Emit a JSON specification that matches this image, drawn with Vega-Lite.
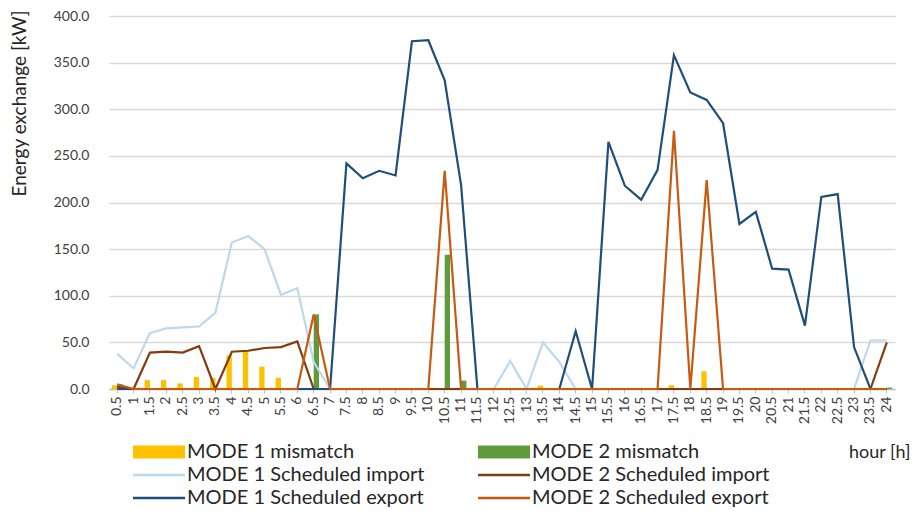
{
  "$schema": "https://vega.github.io/schema/vega-lite/v6.json",
  "width": 786,
  "height": 373,
  "autosize": "none",
  "padding": {"left": 109, "top": 16, "right": 17, "bottom": 122},
  "config": {
    "view": {"stroke": null},
    "font": "Lato",
    "axis": {"labelFont": "Lato", "titleFont": "Lato", "labelColor": "#404040", "titleColor": "#262626", "titleFontWeight": "normal"}
  },
  "data": {
    "values": [
      {"h": 0.5, "MODE 1 mismatch": 4, "MODE 2 mismatch": 5, "MODE 1 Scheduled import": 38, "MODE 2 Scheduled import": 2, "MODE 1 Scheduled export": 0, "MODE 2 Scheduled export": 5},
      {"h": 1, "MODE 1 mismatch": 0, "MODE 2 mismatch": 0, "MODE 1 Scheduled import": 22, "MODE 2 Scheduled import": 0, "MODE 1 Scheduled export": 0, "MODE 2 Scheduled export": 0},
      {"h": 1.5, "MODE 1 mismatch": 9.6, "MODE 2 mismatch": 0, "MODE 1 Scheduled import": 60, "MODE 2 Scheduled import": 39, "MODE 1 Scheduled export": 0, "MODE 2 Scheduled export": 0},
      {"h": 2, "MODE 1 mismatch": 9.6, "MODE 2 mismatch": 0, "MODE 1 Scheduled import": 65, "MODE 2 Scheduled import": 40, "MODE 1 Scheduled export": 0, "MODE 2 Scheduled export": 0},
      {"h": 2.5, "MODE 1 mismatch": 6, "MODE 2 mismatch": 0, "MODE 1 Scheduled import": 66, "MODE 2 Scheduled import": 39, "MODE 1 Scheduled export": 0, "MODE 2 Scheduled export": 0},
      {"h": 3, "MODE 1 mismatch": 13, "MODE 2 mismatch": 0, "MODE 1 Scheduled import": 67, "MODE 2 Scheduled import": 46, "MODE 1 Scheduled export": 0, "MODE 2 Scheduled export": 0},
      {"h": 3.5, "MODE 1 mismatch": 12, "MODE 2 mismatch": 0, "MODE 1 Scheduled import": 82, "MODE 2 Scheduled import": 0, "MODE 1 Scheduled export": 0, "MODE 2 Scheduled export": 0},
      {"h": 4, "MODE 1 mismatch": 36, "MODE 2 mismatch": 0, "MODE 1 Scheduled import": 157, "MODE 2 Scheduled import": 40, "MODE 1 Scheduled export": 0, "MODE 2 Scheduled export": 0},
      {"h": 4.5, "MODE 1 mismatch": 41, "MODE 2 mismatch": 0, "MODE 1 Scheduled import": 164, "MODE 2 Scheduled import": 41, "MODE 1 Scheduled export": 0, "MODE 2 Scheduled export": 0},
      {"h": 5, "MODE 1 mismatch": 24, "MODE 2 mismatch": 0, "MODE 1 Scheduled import": 150, "MODE 2 Scheduled import": 44, "MODE 1 Scheduled export": 0, "MODE 2 Scheduled export": 0},
      {"h": 5.5, "MODE 1 mismatch": 12, "MODE 2 mismatch": 0, "MODE 1 Scheduled import": 101, "MODE 2 Scheduled import": 45, "MODE 1 Scheduled export": 0, "MODE 2 Scheduled export": 0},
      {"h": 6, "MODE 1 mismatch": 0, "MODE 2 mismatch": 0, "MODE 1 Scheduled import": 108, "MODE 2 Scheduled import": 51, "MODE 1 Scheduled export": 0, "MODE 2 Scheduled export": 0},
      {"h": 6.5, "MODE 1 mismatch": 0, "MODE 2 mismatch": 80, "MODE 1 Scheduled import": 29, "MODE 2 Scheduled import": 0, "MODE 1 Scheduled export": 0, "MODE 2 Scheduled export": 80},
      {"h": 7, "MODE 1 mismatch": 0, "MODE 2 mismatch": 0, "MODE 1 Scheduled import": 0, "MODE 2 Scheduled import": 0, "MODE 1 Scheduled export": 0, "MODE 2 Scheduled export": 0},
      {"h": 7.5, "MODE 1 mismatch": 0, "MODE 2 mismatch": 0, "MODE 1 Scheduled import": 0, "MODE 2 Scheduled import": 0, "MODE 1 Scheduled export": 242, "MODE 2 Scheduled export": 0},
      {"h": 8, "MODE 1 mismatch": 0, "MODE 2 mismatch": 0, "MODE 1 Scheduled import": 0, "MODE 2 Scheduled import": 0, "MODE 1 Scheduled export": 226, "MODE 2 Scheduled export": 0},
      {"h": 8.5, "MODE 1 mismatch": 0, "MODE 2 mismatch": 0, "MODE 1 Scheduled import": 0, "MODE 2 Scheduled import": 0, "MODE 1 Scheduled export": 234, "MODE 2 Scheduled export": 0},
      {"h": 9, "MODE 1 mismatch": 0, "MODE 2 mismatch": 0, "MODE 1 Scheduled import": 0, "MODE 2 Scheduled import": 0, "MODE 1 Scheduled export": 229, "MODE 2 Scheduled export": 0},
      {"h": 9.5, "MODE 1 mismatch": 0, "MODE 2 mismatch": 0, "MODE 1 Scheduled import": 0, "MODE 2 Scheduled import": 0, "MODE 1 Scheduled export": 373, "MODE 2 Scheduled export": 0},
      {"h": 10, "MODE 1 mismatch": 0, "MODE 2 mismatch": 0, "MODE 1 Scheduled import": 0, "MODE 2 Scheduled import": 0, "MODE 1 Scheduled export": 374, "MODE 2 Scheduled export": 0},
      {"h": 10.5, "MODE 1 mismatch": 0, "MODE 2 mismatch": 144, "MODE 1 Scheduled import": 0, "MODE 2 Scheduled import": 0, "MODE 1 Scheduled export": 331, "MODE 2 Scheduled export": 234},
      {"h": 11, "MODE 1 mismatch": 0, "MODE 2 mismatch": 9, "MODE 1 Scheduled import": 0, "MODE 2 Scheduled import": 0, "MODE 1 Scheduled export": 219, "MODE 2 Scheduled export": 0},
      {"h": 11.5, "MODE 1 mismatch": 0, "MODE 2 mismatch": 0, "MODE 1 Scheduled import": 0, "MODE 2 Scheduled import": 0, "MODE 1 Scheduled export": 0, "MODE 2 Scheduled export": 0},
      {"h": 12, "MODE 1 mismatch": 0, "MODE 2 mismatch": 0, "MODE 1 Scheduled import": 0, "MODE 2 Scheduled import": 0, "MODE 1 Scheduled export": 0, "MODE 2 Scheduled export": 0},
      {"h": 12.5, "MODE 1 mismatch": 0, "MODE 2 mismatch": 0, "MODE 1 Scheduled import": 30, "MODE 2 Scheduled import": 0, "MODE 1 Scheduled export": 0, "MODE 2 Scheduled export": 0},
      {"h": 13, "MODE 1 mismatch": 0, "MODE 2 mismatch": 0, "MODE 1 Scheduled import": 0, "MODE 2 Scheduled import": 0, "MODE 1 Scheduled export": 0, "MODE 2 Scheduled export": 0},
      {"h": 13.5, "MODE 1 mismatch": 3.6, "MODE 2 mismatch": 0, "MODE 1 Scheduled import": 50, "MODE 2 Scheduled import": 0, "MODE 1 Scheduled export": 0, "MODE 2 Scheduled export": 0},
      {"h": 14, "MODE 1 mismatch": 0, "MODE 2 mismatch": 0, "MODE 1 Scheduled import": 29, "MODE 2 Scheduled import": 0, "MODE 1 Scheduled export": 0, "MODE 2 Scheduled export": 0},
      {"h": 14.5, "MODE 1 mismatch": 0, "MODE 2 mismatch": 0, "MODE 1 Scheduled import": 0, "MODE 2 Scheduled import": 0, "MODE 1 Scheduled export": 62, "MODE 2 Scheduled export": 0},
      {"h": 15, "MODE 1 mismatch": 0, "MODE 2 mismatch": 0, "MODE 1 Scheduled import": 0, "MODE 2 Scheduled import": 0, "MODE 1 Scheduled export": 0, "MODE 2 Scheduled export": 0},
      {"h": 15.5, "MODE 1 mismatch": 0, "MODE 2 mismatch": 0, "MODE 1 Scheduled import": 0, "MODE 2 Scheduled import": 0, "MODE 1 Scheduled export": 265, "MODE 2 Scheduled export": 0},
      {"h": 16, "MODE 1 mismatch": 0, "MODE 2 mismatch": 0, "MODE 1 Scheduled import": 0, "MODE 2 Scheduled import": 0, "MODE 1 Scheduled export": 218, "MODE 2 Scheduled export": 0},
      {"h": 16.5, "MODE 1 mismatch": 0, "MODE 2 mismatch": 0, "MODE 1 Scheduled import": 0, "MODE 2 Scheduled import": 0, "MODE 1 Scheduled export": 203, "MODE 2 Scheduled export": 0},
      {"h": 17, "MODE 1 mismatch": 0, "MODE 2 mismatch": 0, "MODE 1 Scheduled import": 0, "MODE 2 Scheduled import": 0, "MODE 1 Scheduled export": 235, "MODE 2 Scheduled export": 0},
      {"h": 17.5, "MODE 1 mismatch": 4, "MODE 2 mismatch": 0, "MODE 1 Scheduled import": 0, "MODE 2 Scheduled import": 0, "MODE 1 Scheduled export": 358, "MODE 2 Scheduled export": 277},
      {"h": 18, "MODE 1 mismatch": 0, "MODE 2 mismatch": 0, "MODE 1 Scheduled import": 0, "MODE 2 Scheduled import": 0, "MODE 1 Scheduled export": 318, "MODE 2 Scheduled export": 0},
      {"h": 18.5, "MODE 1 mismatch": 19, "MODE 2 mismatch": 0, "MODE 1 Scheduled import": 0, "MODE 2 Scheduled import": 0, "MODE 1 Scheduled export": 310, "MODE 2 Scheduled export": 224},
      {"h": 19, "MODE 1 mismatch": 0, "MODE 2 mismatch": 0, "MODE 1 Scheduled import": 0, "MODE 2 Scheduled import": 0, "MODE 1 Scheduled export": 285, "MODE 2 Scheduled export": 0},
      {"h": 19.5, "MODE 1 mismatch": 0, "MODE 2 mismatch": 0, "MODE 1 Scheduled import": 0, "MODE 2 Scheduled import": 0, "MODE 1 Scheduled export": 177, "MODE 2 Scheduled export": 0},
      {"h": 20, "MODE 1 mismatch": 0, "MODE 2 mismatch": 0, "MODE 1 Scheduled import": 0, "MODE 2 Scheduled import": 0, "MODE 1 Scheduled export": 190, "MODE 2 Scheduled export": 0},
      {"h": 20.5, "MODE 1 mismatch": 0, "MODE 2 mismatch": 0, "MODE 1 Scheduled import": 0, "MODE 2 Scheduled import": 0, "MODE 1 Scheduled export": 129, "MODE 2 Scheduled export": 0},
      {"h": 21, "MODE 1 mismatch": 0, "MODE 2 mismatch": 0, "MODE 1 Scheduled import": 0, "MODE 2 Scheduled import": 0, "MODE 1 Scheduled export": 128, "MODE 2 Scheduled export": 0},
      {"h": 21.5, "MODE 1 mismatch": 0, "MODE 2 mismatch": 0, "MODE 1 Scheduled import": 0, "MODE 2 Scheduled import": 0, "MODE 1 Scheduled export": 68, "MODE 2 Scheduled export": 0},
      {"h": 22, "MODE 1 mismatch": 0, "MODE 2 mismatch": 0, "MODE 1 Scheduled import": 0, "MODE 2 Scheduled import": 0, "MODE 1 Scheduled export": 206, "MODE 2 Scheduled export": 0},
      {"h": 22.5, "MODE 1 mismatch": 0, "MODE 2 mismatch": 0, "MODE 1 Scheduled import": 0, "MODE 2 Scheduled import": 0, "MODE 1 Scheduled export": 209, "MODE 2 Scheduled export": 0},
      {"h": 23, "MODE 1 mismatch": 0, "MODE 2 mismatch": 0, "MODE 1 Scheduled import": 0, "MODE 2 Scheduled import": 0, "MODE 1 Scheduled export": 45, "MODE 2 Scheduled export": 0},
      {"h": 23.5, "MODE 1 mismatch": 0, "MODE 2 mismatch": 0, "MODE 1 Scheduled import": 52, "MODE 2 Scheduled import": 0, "MODE 1 Scheduled export": 0, "MODE 2 Scheduled export": 0},
      {"h": 24, "MODE 1 mismatch": 0, "MODE 2 mismatch": 1.5, "MODE 1 Scheduled import": 52, "MODE 2 Scheduled import": 50, "MODE 1 Scheduled export": 0, "MODE 2 Scheduled export": 0}
    ]
  },
  "transform": [
    {"fold": ["MODE 1 mismatch", "MODE 2 mismatch", "MODE 1 Scheduled import", "MODE 2 Scheduled import", "MODE 1 Scheduled export", "MODE 2 Scheduled export"], "as": ["series", "value"]}
  ],
  "encoding": {
    "x": {
      "field": "h", "type": "ordinal",
      "scale": {"paddingInner": 0.35, "paddingOuter": 0.175},
      "axis": {
        "title": "hour [h]", "titleFontSize": 18, "titleAlign": "right", "titleAnchor": "end", "titleX": 801, "titleY": 63, "titleBaseline": "middle",
        "labelAngle": -90, "labelFontSize": 14, "labelPadding": 3, "labelAlign": "right", "labelBaseline": "middle",
        "domainColor": "#bfbfbf", "domainWidth": 1.5, "tickColor": "#bfbfbf", "tickSize": 4, "grid": false
      }
    },
    "y": {
      "field": "value", "type": "quantitative",
      "scale": {"domain": [0, 400], "nice": false},
      "axis": {
        "title": "Energy exchange [kW]", "titleFontSize": 19, "titleAlign": "right", "titleAnchor": "end", "titleY": -6, "titlePadding": 24,
        "format": ".1f", "values": [0, 50, 100, 150, 200, 250, 300, 350, 400], "labelOverlap": false,
        "labelFontSize": 14, "labelPadding": 20, "ticks": false, "domain": false,
        "gridColor": "#d9d9d9", "gridWidth": 1.5
      }
    },
    "color": {
      "field": "series", "type": "nominal",
      "scale": {
        "domain": ["MODE 1 mismatch", "MODE 2 mismatch", "MODE 1 Scheduled import", "MODE 2 Scheduled import", "MODE 1 Scheduled export", "MODE 2 Scheduled export"],
        "range": ["#ffc000", "#5f9a3c", "#bdd7ee", "#843c0c", "#1f4e79", "#c55a11"]
      },
      "legend": {
        "orient": "none", "legendX": 40, "legendY": 426, "columns": 2, "direction": "horizontal", "title": null,
        "labelFont": "Lato", "labelFontSize": 20, "labelColor": "#262626", "labelLimit": 400, "labelOffset": 18,
        "symbolSize": 2704, "symbolStrokeWidth": 2.5, "columnPadding": 48, "rowPadding": 3,
        "symbolType": "M-1,-0.25H1V0.25H-1Z",
        "encode": {
          "symbols": {
            "update": {
              "shape": {"signal": "indexof(['MODE 1 mismatch','MODE 2 mismatch'], datum.value) >= 0 ? 'M-1,-0.25H1V0.25H-1Z' : 'M-1,0H1'"},
              "fill": {"signal": "indexof(['MODE 1 mismatch','MODE 2 mismatch'], datum.value) >= 0 ? scale('color', datum.value) : 'transparent'"},
              "stroke": {"signal": "scale('color', datum.value)"},
              "strokeWidth": {"signal": "indexof(['MODE 1 mismatch','MODE 2 mismatch'], datum.value) >= 0 ? 0 : 2.5"},
              "opacity": {"value": 1}
            }
          }
        }
      }
    }
  },
  "layer": [
    {
      "transform": [{"filter": "indexof(['MODE 1 mismatch','MODE 2 mismatch'], datum.series) >= 0"}],
      "mark": {"type": "bar"},
      "encoding": {
        "xOffset": {"field": "series", "type": "nominal", "scale": {"domain": ["MODE 1 mismatch", "MODE 2 mismatch"]}}
      }
    },
    {
      "transform": [{"filter": "indexof(['MODE 1 mismatch','MODE 2 mismatch'], datum.series) < 0"}],
      "mark": {"type": "line", "strokeWidth": 2.2},
      "encoding": {
        "detail": {"field": "series"}
      }
    }
  ]
}
